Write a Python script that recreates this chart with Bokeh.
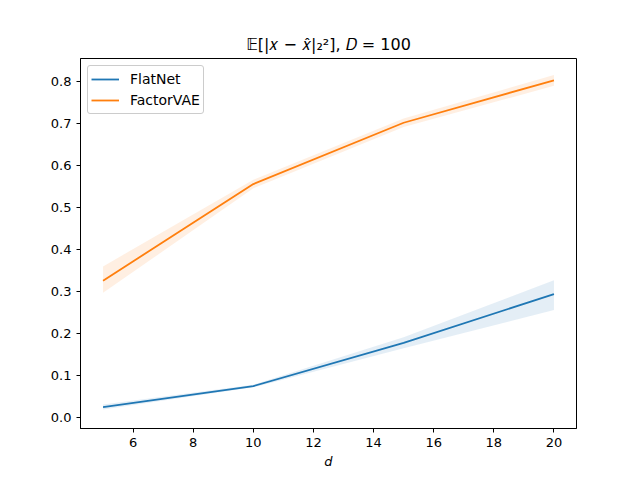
from bokeh.plotting import figure
from bokeh.models import Range1d, FixedTicker, Legend, LegendItem
from bokeh.embed import file_html
from bokeh.resources import INLINE

d = [5, 10, 15, 20]
flatnet = [0.025, 0.075, 0.178, 0.294]
flatnet_lo = [0.019, 0.072, 0.165, 0.256]
flatnet_hi = [0.031, 0.078, 0.191, 0.327]
factorvae = [0.326, 0.556, 0.702, 0.803]
factorvae_lo = [0.297, 0.546, 0.692, 0.790]
factorvae_hi = [0.360, 0.566, 0.712, 0.816]

xticks = [6, 8, 10, 12, 14, 16, 18, 20]
yticks = [0.0, 0.1, 0.2, 0.3, 0.4, 0.5, 0.6, 0.7, 0.8]

FONT = "DejaVu Sans"
BLUE = "#1f77b4"
ORANGE = "#ff7f0e"

p = figure(width=640, height=480, output_backend="svg", toolbar_location=None,
           x_range=Range1d(4.25, 20.75), y_range=Range1d(-0.026, 0.855),
           min_border_left=80, min_border_right=64, min_border_top=58, min_border_bottom=52)

p.title.text = "𝔼[|𝑥 − 𝑥̂|₂²], 𝐷 = 100"
p.title.align = "center"
p.title.text_font = FONT
p.title.text_font_size = "16px"
p.title.text_font_style = "normal"
p.title.text_color = "black"

p.varea(x=d, y1=flatnet_lo, y2=flatnet_hi, fill_color=BLUE, fill_alpha=0.12)
p.varea(x=d, y1=factorvae_lo, y2=factorvae_hi, fill_color=ORANGE, fill_alpha=0.12)
r1 = p.line(d, flatnet, line_color=BLUE, line_width=1.8)
r2 = p.line(d, factorvae, line_color=ORANGE, line_width=1.8)

legend = Legend(items=[LegendItem(label="FlatNet", renderers=[r1]),
                       LegendItem(label="FactorVAE", renderers=[r2])],
                location="top_left")
legend.label_text_font = FONT
legend.label_text_font_size = "14px"
legend.label_text_color = "black"
legend.border_line_color = "#cccccc"
legend.border_line_alpha = 1
legend.border_radius = 3
legend.margin = 7
legend.padding = 3
legend.spacing = 1
legend.glyph_width = 28
legend.glyph_height = 20
legend.label_height = 20
legend.label_standoff = 11
p.add_layout(legend)

p.grid.visible = False
p.outline_line_color = "black"
p.outline_line_width = 1

for ax in (p.xaxis, p.yaxis):
    ax.major_label_text_font = FONT
    ax.major_label_text_font_size = "13px"
    ax.major_tick_in = 0
    ax.major_tick_out = 4
    ax.minor_tick_line_color = None
    ax.axis_line_color = "black"
    ax.major_tick_line_color = "black"
    ax.major_label_text_color = "black"

p.xaxis.ticker = FixedTicker(ticks=xticks)
p.yaxis.ticker = FixedTicker(ticks=yticks)
p.yaxis.major_label_overrides = {v: f"{v:.1f}" for v in yticks}
p.xaxis.axis_label = "d"
p.xaxis.axis_label_text_font = FONT
p.xaxis.axis_label_text_font_style = "italic"
p.xaxis.axis_label_text_font_size = "13px"
p.xaxis.axis_label_text_color = "black"
p.xaxis.axis_label_standoff = 4

open("out.html", "w").write(file_html(p, INLINE))
